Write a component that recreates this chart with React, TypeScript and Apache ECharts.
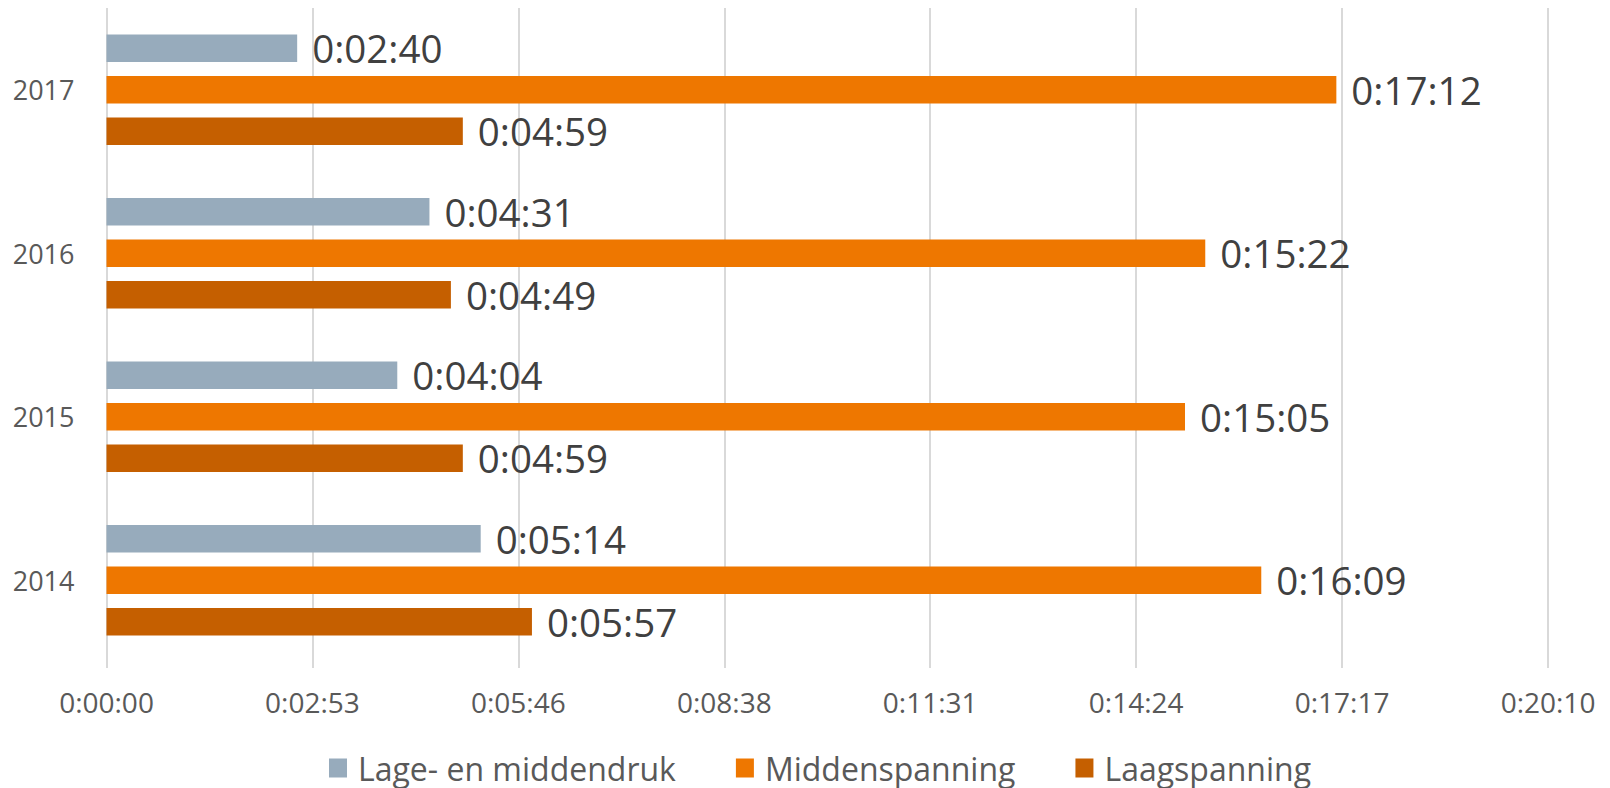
import React, { useEffect, useRef } from "react";
import * as echarts from "echarts";

const years = ["2014", "2015", "2016", "2017"];
// values in seconds
const lageEnMiddendruk = [314, 244, 271, 160];
const middenspanning = [969, 905, 922, 1032];
const laagspanning = [357, 299, 289, 299];
const seriesNames = ["Lage- en middendruk", "Middenspanning", "Laagspanning"];
const colors = ["#97ABBC", "#EE7700", "#C55F00"];
const axisMax = 1209.6; // 0:20:10
const axisInterval = 172.8; // 0:02:53

function fmt(v: number): string {
  const s = Math.round(v);
  const h = Math.floor(s / 3600);
  const m = Math.floor((s % 3600) / 60);
  const sec = s % 60;
  return `${h}:${String(m).padStart(2, "0")}:${String(sec).padStart(2, "0")}`;
}

export default function App() {
  const ref = useRef<HTMLDivElement>(null);
  useEffect(() => {
    if (!ref.current) return;
    const chart = echarts.init(ref.current, null, { renderer: "svg" });
    const font = "'Open Sans', sans-serif";
    const mkSeries = (name: string, data: number[], color: string) => ({
      name,
      type: "bar",
      data,
      barWidth: 27.5,
      barGap: "51%",
      itemStyle: { color },
      label: {
        show: true,
        position: "right",
        distance: 15,
        formatter: (p: any) => fmt(p.value),
        color: "#404040",
        fontSize: 38.5,
        fontFamily: font,
      },
    });
    chart.setOption({
      animation: false,
      grid: { left: 106.5, right: 62, top: 8, bottom: 126, containLabel: false },
      legend: {
        data: seriesNames,
        bottom: -1,
        left: 324,
        itemWidth: 18,
        itemHeight: 19,
        itemGap: 60,
        icon: "rect",
        textStyle: { fontSize: 32, color: "#595959", fontFamily: font, padding: [0, 0, 0, 6] },
      },
      xAxis: {
        type: "value",
        min: 0,
        max: axisMax,
        interval: axisInterval,
        axisLine: { show: false },
        axisTick: { show: true, length: 6, lineStyle: { color: "#D9D9D9", width: 2 } },
        splitLine: { show: true, lineStyle: { color: "#D9D9D9", width: 2 } },
        axisLabel: {
          formatter: (v: number) => fmt(v),
          fontSize: 28,
          color: "#595959",
          fontFamily: font,
          margin: 26,
        },
      },
      yAxis: {
        type: "category",
        data: years,
        axisLine: { show: false },
        axisTick: { show: false },
        axisLabel: { fontSize: 27, color: "#595959", fontFamily: font, margin: 32 },
      },
      series: [
        mkSeries(seriesNames[0], lageEnMiddendruk, colors[0]),
        mkSeries(seriesNames[1], middenspanning, colors[1]),
        mkSeries(seriesNames[2], laagspanning, colors[2]),
      ],
    });
    return () => chart.dispose();
  }, []);
  return (
    <div
      ref={ref}
      style={{ position: "fixed", left: 0, top: 0, width: 1610, height: 788, background: "#fff" }}
    />
  );
}
